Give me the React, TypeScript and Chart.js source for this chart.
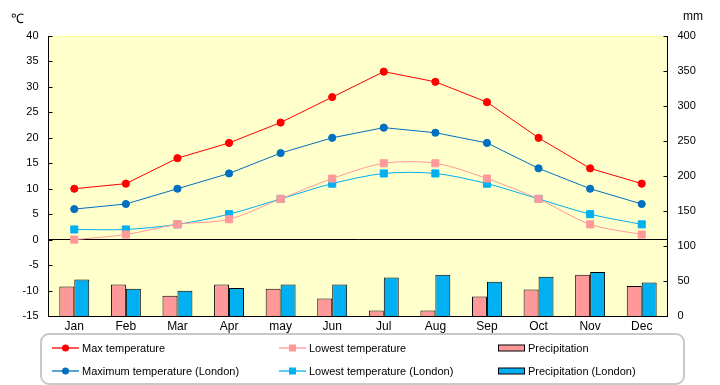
import React, { useEffect, useRef } from "react";
import { Chart, registerables } from "chart.js";

Chart.register(...registerables);

const months = ["Jan", "Feb", "Mar", "Apr", "may", "Jun", "Jul", "Aug", "Sep", "Oct", "Nov", "Dec"];
const maxTemp = [10, 11, 16, 19, 23, 28, 33, 31, 27, 20, 14, 11];
const minTemp = [0, 1, 3, 4, 8, 12, 15, 15, 12, 8, 3, 1];
const maxTempLondon = [6, 7, 10, 13, 17, 20, 22, 21, 19, 14, 10, 7];
const minTempLondon = [2, 2, 3, 5, 8, 11, 13, 13, 11, 8, 5, 3];
const precip = [42, 45, 29, 45, 39, 25, 8, 8, 28, 38, 59, 43];
const precipLondon = [52, 39, 36, 40, 45, 45, 55, 59, 49, 56, 63, 48];

const FONT = "'Liberation Sans', Arial, sans-serif";

const chartDeco = {
  id: "chartDeco",
  beforeDraw(chart: any) {
    const { ctx, chartArea: a } = chart;
    ctx.save();
    ctx.fillStyle = "#FFFFCC";
    ctx.fillRect(a.left, a.top, a.right - a.left, a.bottom - a.top);
    ctx.strokeStyle = "#FFFF99";
    ctx.lineWidth = 1;
    ctx.beginPath();
    ctx.moveTo(a.left, a.top + 0.5);
    ctx.lineTo(a.right, a.top + 0.5);
    ctx.stroke();
    ctx.restore();
  },
  afterDraw(chart: any) {
    const { ctx, chartArea: a } = chart;
    ctx.save();
    ctx.strokeStyle = "#000";
    ctx.lineWidth = 1;
    const y = chart.scales.y;
    const y1 = chart.scales.y1;
    ctx.beginPath();
    y.ticks.forEach((t: any) => {
      const p = Math.round(y.getPixelForValue(t.value)) + 0.5;
      ctx.moveTo(a.left, p);
      ctx.lineTo(a.left + 4, p);
    });
    y1.ticks.forEach((t: any) => {
      const p = Math.round(y1.getPixelForValue(t.value)) + 0.5;
      ctx.moveTo(a.right - 4, p);
      ctx.lineTo(a.right, p);
    });
    ctx.stroke();
    ctx.restore();
  },
};

function LineMarker({ color, shape }: { color: string; shape: "circle" | "rect" }) {
  return (
    <svg width={27} height={10} style={{ display: "block" }}>
      <line x1={0} y1={5} x2={27} y2={5} stroke={color} strokeWidth={1.3} />
      {shape === "circle" ? (
        <circle cx={13.5} cy={5} r={3.5} fill={color} />
      ) : (
        <rect x={10} y={1.5} width={7} height={7} fill={color} />
      )}
    </svg>
  );
}

function BoxMarker({ color }: { color: string }) {
  return (
    <svg width={27} height={8} style={{ display: "block" }}>
      <rect x={0.5} y={1} width={26} height={6} fill={color} stroke="#000" strokeWidth={1} />
    </svg>
  );
}

export default function App() {
  const ref = useRef<HTMLCanvasElement | null>(null);

  useEffect(() => {
    document.body.style.margin = "0";
    const canvas = ref.current!;
    const chart = new Chart(canvas, {
      type: "bar",
      data: {
        labels: months,
        datasets: [
          {
            type: "line",
            label: "Max temperature",
            data: maxTemp,
            yAxisID: "y",
            borderColor: "#FF0000",
            backgroundColor: "#FF0000",
            borderWidth: 1,
            pointStyle: "circle",
            pointRadius: 3.6,
            order: 1,
          },
          {
            type: "line",
            label: "Lowest temperature",
            data: minTemp,
            yAxisID: "y",
            borderColor: "#FF9999",
            backgroundColor: "#FF9999",
            borderWidth: 1,
            pointStyle: "rect",
            pointRadius: 5,
            tension: 0.3,
            order: 1,
          },
          {
            type: "line",
            label: "Maximum temperature (London)",
            data: maxTempLondon,
            yAxisID: "y",
            borderColor: "#0070C0",
            backgroundColor: "#0070C0",
            borderWidth: 1,
            pointStyle: "circle",
            pointRadius: 3.6,
            order: 1,
          },
          {
            type: "line",
            label: "Lowest temperature (London)",
            data: minTempLondon,
            yAxisID: "y",
            borderColor: "#00B0F0",
            backgroundColor: "#00B0F0",
            borderWidth: 1,
            pointStyle: "rect",
            pointRadius: 5,
            tension: 0.3,
            order: 1,
          },
          {
            type: "bar",
            label: "Precipitation",
            data: precip,
            yAxisID: "y1",
            backgroundColor: "#FF9999",
            borderColor: "#000",
            borderWidth: 1,
            barPercentage: 1,
            categoryPercentage: 0.58,
            order: 2,
          },
          {
            type: "bar",
            label: "Precipitation (London)",
            data: precipLondon,
            yAxisID: "y1",
            backgroundColor: "#00B0F0",
            borderColor: "#000",
            borderWidth: 1,
            barPercentage: 1,
            categoryPercentage: 0.58,
            order: 2,
          },
        ],
      },
      options: {
        animation: false,
        responsive: false,
        maintainAspectRatio: false,
        layout: { padding: { left: 0, right: 0, top: 36, bottom: 0 } },
        plugins: { legend: { display: false }, tooltip: { enabled: false } },
        scales: {
          x: {
            grid: { display: false, drawTicks: false },
            border: { display: true, color: "#000" },
            ticks: { color: "#000", font: { family: FONT, size: 12 }, padding: 3, maxRotation: 0 },
            afterFit: (s: any) => {
              s.height = 385 - 316;
            },
          },
          y: {
            position: "left",
            min: -15,
            max: 40,
            ticks: { stepSize: 5, color: "#000", font: { family: FONT, size: 11 }, padding: 10 },
            grid: {
              drawTicks: false,
              color: (c: any) => (c.tick && c.tick.value === 0 ? "#000" : "rgba(0,0,0,0)"),
              lineWidth: 1,
            },
            border: { display: true, color: "#000" },
            afterFit: (s: any) => {
              s.width = 48.5;
            },
          },
          y1: {
            position: "right",
            min: 0,
            max: 400,
            ticks: { stepSize: 50, color: "#000", font: { family: FONT, size: 11 }, padding: 10 },
            grid: { display: false, drawTicks: false },
            border: { display: true, color: "#000" },
            afterFit: (s: any) => {
              s.width = 720 - 667.5;
            },
          },
        },
      },
      plugins: [chartDeco],
    });
    return () => chart.destroy();
  }, []);

  const textStyle: React.CSSProperties = {
    fontFamily: FONT,
    fontSize: 11,
    color: "#000",
    whiteSpace: "nowrap",
    marginLeft: 3,
  };
  const item = (left: number, top: number, marker: React.ReactNode, label: string) => (
    <div
      style={{ position: "absolute", left, top, height: 14, display: "flex", alignItems: "center" }}
    >
      {marker}
      <span style={textStyle}>{label}</span>
    </div>
  );

  return (
    <div style={{ position: "relative", width: 720, height: 385, background: "#fff", overflow: "hidden" }}>
      <canvas ref={ref} width={720} height={385} style={{ position: "absolute", left: 0, top: 0 }} />
      <div style={{ position: "absolute", left: 11, top: 9, fontFamily: FONT, fontSize: 13 }}>℃</div>
      <div style={{ position: "absolute", left: 683, top: 9, fontFamily: FONT, fontSize: 12 }}>mm</div>
      <div
        style={{
          position: "absolute",
          left: 40,
          top: 333,
          width: 641,
          height: 48,
          border: "2px solid #C8C8C8",
          borderRadius: 9,
        }}
      />
      {item(52, 341, <LineMarker color="#FF0000" shape="circle" />, "Max temperature")}
      {item(279, 341, <LineMarker color="#FF9999" shape="rect" />, "Lowest temperature")}
      {item(498, 341, <BoxMarker color="#FF9999" />, "Precipitation")}
      {item(52, 364, <LineMarker color="#0070C0" shape="circle" />, "Maximum temperature (London)")}
      {item(279, 364, <LineMarker color="#00B0F0" shape="rect" />, "Lowest temperature (London)")}
      {item(498, 364, <BoxMarker color="#00B0F0" />, "Precipitation (London)")}
    </div>
  );
}
